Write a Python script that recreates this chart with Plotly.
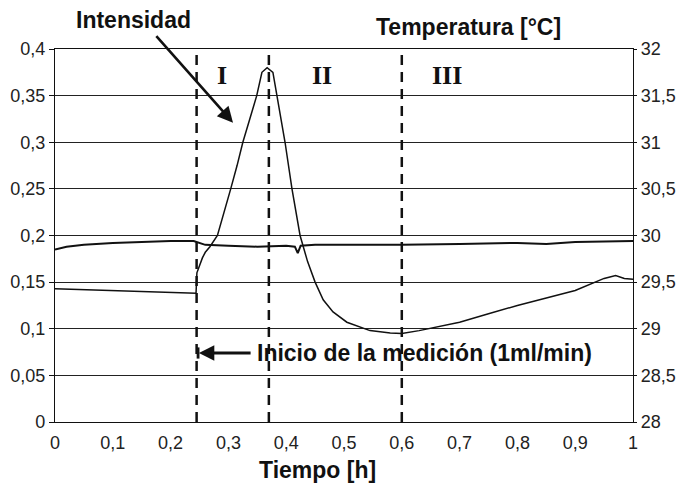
import plotly.graph_objects as go

# Intensity (left axis)
int_x = [0.0, 0.05, 0.1, 0.15, 0.2, 0.244, 0.2455, 0.25, 0.255, 0.26, 0.268, 0.281, 0.293, 0.304, 0.315, 0.325,
         0.337, 0.349, 0.358, 0.367, 0.377, 0.384, 0.398, 0.41, 0.424, 0.437, 0.45, 0.464, 0.481, 0.505,
         0.528, 0.545, 0.58, 0.6, 0.63, 0.663, 0.7, 0.75, 0.8, 0.85, 0.9, 0.95, 0.97, 0.985, 1.0]
int_y = [0.143, 0.142, 0.141, 0.140, 0.139, 0.138, 0.160, 0.168, 0.176, 0.182, 0.188, 0.200, 0.225, 0.250, 0.275, 0.300,
         0.325, 0.350, 0.375, 0.380, 0.375, 0.350, 0.300, 0.250, 0.200, 0.172, 0.150, 0.131, 0.118, 0.107,
         0.102, 0.098, 0.0955, 0.095, 0.098, 0.102, 0.107, 0.116, 0.125, 0.133, 0.141, 0.154, 0.157, 0.154, 0.153]

# Temperature (right axis, °C)
temp_x = [0.0, 0.02, 0.05, 0.1, 0.15, 0.2, 0.24, 0.25, 0.26, 0.3, 0.35, 0.4, 0.415, 0.42, 0.425, 0.45, 0.5,
          0.6, 0.7, 0.8, 0.85, 0.9, 1.0]
temp_y = [29.85, 29.88, 29.90, 29.92, 29.93, 29.94, 29.94, 29.92, 29.90, 29.89, 29.88, 29.89, 29.88, 29.81, 29.89,
          29.90, 29.90, 29.90, 29.91, 29.92, 29.91, 29.93, 29.94]

phase_bounds = [0.245, 0.37, 0.6]
phase_labels = ["I", "II", "III"]
phase_label_x = [0.289, 0.462, 0.678]

left_ticks = [0, 0.05, 0.1, 0.15, 0.2, 0.25, 0.3, 0.35, 0.4]
left_tick_labels = ["0", "0,05", "0,1", "0,15", "0,2", "0,25", "0,3", "0,35", "0,4"]
right_ticks = [28, 28.5, 29, 29.5, 30, 30.5, 31, 31.5, 32]
right_tick_labels = ["28", "28,5", "29", "29,5", "30", "30,5", "31", "31,5", "32"]
x_ticks = [0, 0.1, 0.2, 0.3, 0.4, 0.5, 0.6, 0.7, 0.8, 0.9, 1]
x_tick_labels = ["0", "0,1", "0,2", "0,3", "0,4", "0,5", "0,6", "0,7", "0,8", "0,9", "1"]

fig = go.Figure()
fig.add_trace(go.Scatter(x=int_x, y=int_y, mode="lines", line=dict(color="#111", width=1.5),
                         showlegend=False, hoverinfo="skip"))
fig.add_trace(go.Scatter(x=temp_x, y=temp_y, mode="lines", line=dict(color="#111", width=2),
                         yaxis="y2", showlegend=False, hoverinfo="skip"))

for xb in phase_bounds:
    fig.add_shape(type="line", x0=xb, x1=xb, y0=0, y1=0.4, xref="x", yref="y",
                  line=dict(color="#111", width=2.5, dash="10px,7px"))

for lbl, lx in zip(phase_labels, phase_label_x):
    fig.add_annotation(x=lx, y=0.372, xref="x", yref="y", text="<b>%s</b>" % lbl, showarrow=False,
                       font=dict(family="Liberation Serif", size=26, color="#111"))

bold = dict(family="Liberation Sans, Arial", size=23, color="#111")
fig.add_annotation(x=0.135, y=1.078, xref="paper", yref="paper", text="<b>Intensidad</b>",
                   showarrow=False, font=bold, xanchor="center", yanchor="middle")
fig.add_annotation(x=0.715, y=1.059, xref="paper", yref="paper", text="<b>Temperatura [°C]</b>",
                   showarrow=False, font=bold, xanchor="center", yanchor="middle")
fig.add_annotation(x=0.455, y=-0.129, xref="paper", yref="paper", text="<b>Tiempo [h]</b>",
                   showarrow=False, font=bold, xanchor="center", yanchor="middle")
# Intensidad arrow
fig.add_annotation(x=0.308, y=0.321, xref="x", yref="y", ax=-78, ay=-88, text="",
                   showarrow=True, arrowhead=2, arrowsize=1.2, arrowwidth=2.6, arrowcolor="#111")
# Inicio arrow
fig.add_annotation(x=0.346, y=0.074, xref="x", yref="y", text="<b>Inicio de la medición (1ml/min)</b>",
                   showarrow=False, xanchor="left", yanchor="middle", font=bold)
fig.add_annotation(x=0.249, y=0.074, xref="x", yref="y", ax=0.341, ay=0.074, axref="x", ayref="y", text="",
                   showarrow=True, arrowhead=2, arrowsize=1.1, arrowwidth=2.8, arrowcolor="#111")
fig.add_shape(type="line", x0=0.2475, x1=0.2475, y0=0.068, y1=0.080, xref="x", yref="y",
              line=dict(color="#111", width=2.8))

tickfont = dict(family="Liberation Sans, Arial", size=18, color="#222")
fig.update_layout(
    width=684, height=486,
    margin=dict(l=47, r=59, t=41, b=72, autoexpand=False),
    paper_bgcolor="white", plot_bgcolor="white",
    xaxis=dict(range=[0, 1], tickvals=x_ticks, ticktext=x_tick_labels, showgrid=False, zeroline=False,
               showline=True, linecolor="#111", linewidth=1.3, mirror=True, ticks="", tickfont=tickfont,
               ticklabelstandoff=4),
    yaxis=dict(range=[0, 0.4], tickvals=left_ticks, ticktext=left_tick_labels, showgrid=True,
               gridcolor="#222", gridwidth=1.3, zeroline=False, showline=True, linecolor="#111",
               linewidth=1.3, ticks="outside", ticklen=5, tickcolor="#111", tickfont=tickfont,
               ticklabelstandoff=0),
    yaxis2=dict(range=[28, 32], tickvals=right_ticks, ticktext=right_tick_labels, overlaying="y",
                side="right", showgrid=False, zeroline=False, showline=True, linecolor="#111",
                linewidth=1.3, ticks="outside", ticklen=3, tickcolor="#111", tickfont=tickfont,
                ticklabelstandoff=0),
)

fig.write_html("out.html")
